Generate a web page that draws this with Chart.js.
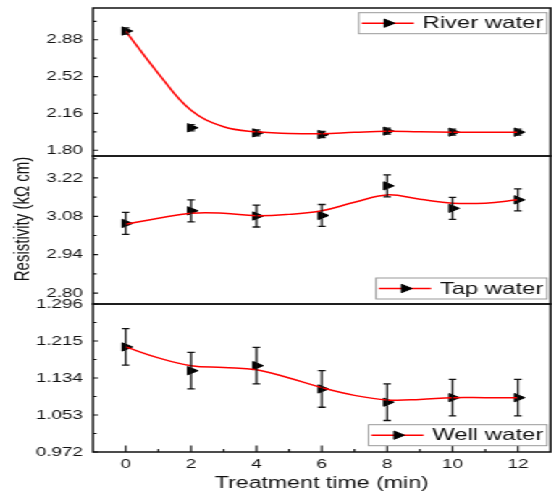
<!DOCTYPE html>
<html>
<head>
<meta charset="utf-8">
<script src="https://cdn.jsdelivr.net/npm/chart.js@4.4.1/dist/chart.umd.min.js"></script>
<style>
  html, body { margin: 0; padding: 0; background: #fff; }
  /* the original figure is stretched sideways, so draw narrow and widen */
  #stage { position: relative; width: 386px; height: 497px; transform: scaleX(1.4482); transform-origin: 0 0; }
  #stage canvas { position: absolute; left: 0; }
</style>
</head>
<body>
<div id="stage">
  <canvas id="river" width="386" height="166" style="top:0px"></canvas>
  <canvas id="tap" width="386" height="168" style="top:146px"></canvas>
  <canvas id="well" width="386" height="203" style="top:294px"></canvas>
</div>
<script>
// measured points (treatment time in min)
const times = [0, 2, 4, 6, 8, 10, 12];
const riverValues = [2.965, 2.02, 1.97, 1.954, 1.987, 1.977, 1.977];
const riverErrors = [0.03, 0.03, 0.03, 0.03, 0.03, 0.03, 0.03];
const tapValues = [3.054, 3.100, 3.081, 3.083, 3.191, 3.109, 3.140];
const tapErrors = [0.04, 0.04, 0.04, 0.04, 0.04, 0.04, 0.04];
const wellValues = [1.202, 1.150, 1.161, 1.110, 1.081, 1.091, 1.091];
const wellErrors = [0.04, 0.04, 0.04, 0.04, 0.04, 0.04, 0.04];

const curveTimes = [0, 1, 2, 3, 4, 5, 6, 7, 8, 9, 10, 11, 12];
const riverCurve = [2.965, 2.55, 2.19, 2.03, 1.98, 1.965, 1.962, 1.975, 1.985, 1.98, 1.977, 1.977, 1.977];
const tapCurve = [3.051, 3.073, 3.091, 3.091, 3.082, 3.087, 3.100, 3.131, 3.158, 3.142, 3.128, 3.128, 3.140];
const wellCurve = [1.202, 1.178, 1.161, 1.157, 1.152, 1.134, 1.113, 1.096, 1.086, 1.087, 1.091, 1.091, 1.091];

// axis ticks
const riverTicks = [1.80, 2.16, 2.52, 2.88];
const riverMinor = [1.98, 2.34, 2.70, 3.06];
const tapTicks = [2.80, 2.94, 3.08, 3.22];
const tapMinor = [2.87, 3.01, 3.15, 3.29];
const wellTicks = [0.972, 1.053, 1.134, 1.215, 1.296];
const wellMinor = [1.0125, 1.0935, 1.1745, 1.2555];
const timeTicks = [0, 2, 4, 6, 8, 10, 12];
const timeMinor = [1, 3, 5, 7, 9, 11];

const FONT = "'Liberation Sans', Arial, sans-serif";
const INK = '#111';

function drawTriangle(ctx, x, y, r) {
  ctx.beginPath();
  ctx.moveTo(x + r, y);
  ctx.lineTo(x - r / 2, y - r * 0.866);
  ctx.lineTo(x - r / 2, y + r * 0.866);
  ctx.closePath();
  ctx.fill();
  ctx.stroke();
}

// frame, inward ticks, error bars and legend box
function decor(cfg) {
  return {
    id: 'decor',
    afterDatasetsDraw(chart) {
      const { ctx, chartArea: a, scales } = chart;
      const x = scales.x, y = scales.y;
      ctx.save();
      ctx.strokeStyle = INK;
      ctx.fillStyle = INK;

      // error bars
      ctx.lineWidth = 1.3;
      cfg.values.forEach((v, i) => {
        const px = x.getPixelForValue(times[i]);
        const top = y.getPixelForValue(v + cfg.errors[i]);
        const bot = y.getPixelForValue(v - cfg.errors[i]);
        ctx.beginPath();
        ctx.moveTo(px, top); ctx.lineTo(px, bot);
        ctx.moveTo(px - 2.6, top); ctx.lineTo(px + 2.6, top);
        ctx.moveTo(px - 2.6, bot); ctx.lineTo(px + 2.6, bot);
        ctx.stroke();
      });

      // ticks pointing in
      ctx.lineWidth = 1.2;
      ctx.beginPath();
      cfg.major.forEach(v => {
        const py = y.getPixelForValue(v);
        ctx.moveTo(a.left, py); ctx.lineTo(a.left + 3.6, py);
      });
      cfg.minor.forEach(v => {
        const py = y.getPixelForValue(v);
        ctx.moveTo(a.left, py); ctx.lineTo(a.left + 2.4, py);
      });
      if (cfg.showX) {
        timeTicks.forEach(v => {
          const px = x.getPixelForValue(v);
          ctx.moveTo(px, a.bottom); ctx.lineTo(px, a.bottom - 6.5);
        });
        timeMinor.forEach(v => {
          const px = x.getPixelForValue(v);
          ctx.moveTo(px, a.bottom); ctx.lineTo(px, a.bottom - 3);
        });
      }
      ctx.stroke();

      // frame
      ctx.lineWidth = 1.5;
      ctx.strokeRect(a.left, a.top, a.right - a.left, a.bottom - a.top);

      // legend
      ctx.font = `16.5px ${FONT}`;
      const tw = ctx.measureText(cfg.label).width;
      const bw = 2 + 36 + 6 + tw + 2.5;
      const bh = 21;
      const bx = a.right - 2.5 - bw;
      const by = cfg.legendTop ? a.top + 4.7 : a.bottom - cfg.legendGap - bh;
      ctx.fillStyle = '#fff';
      ctx.fillRect(bx, by, bw, bh);
      ctx.strokeStyle = '#999';
      ctx.lineWidth = 1;
      ctx.strokeRect(bx, by, bw, bh);
      const cy = by + bh / 2;
      ctx.strokeStyle = '#ff0000';
      ctx.lineWidth = 1.5;
      ctx.beginPath();
      ctx.moveTo(bx + 2, cy); ctx.lineTo(bx + 38, cy);
      ctx.stroke();
      ctx.fillStyle = '#000';
      ctx.strokeStyle = '#000';
      ctx.lineWidth = 1;
      drawTriangle(ctx, bx + 20, cy, 4.8);
      ctx.fillStyle = INK;
      ctx.textAlign = 'left';
      ctx.textBaseline = 'middle';
      ctx.fillText(cfg.label, bx + 44, cy + 0.5);

      // shared y title, drawn on the middle panel
      if (cfg.yTitle) {
        ctx.translate(16, 219 - 146);
        ctx.rotate(-Math.PI / 2);
        ctx.font = `15px ${FONT}`;
        ctx.textAlign = 'center';
        ctx.fillText(cfg.yTitle, 0, 0);
      }
      ctx.restore();
    }
  };
}

function makePanel(id, cfg) {
  return new Chart(document.getElementById(id), {
    type: 'line',
    data: {
      datasets: [
        {
          data: curveTimes.map((t, i) => ({ x: t, y: cfg.curve[i] })),
          borderColor: '#ff0000',
          borderWidth: 1.5,
          pointRadius: 0,
          tension: 0.4,
          fill: false
        },
        {
          data: times.map((t, i) => ({ x: t, y: cfg.values[i] })),
          showLine: false,
          pointStyle: 'triangle',
          pointRotation: 90,
          pointRadius: 4.8,
          pointBackgroundColor: '#000',
          pointBorderColor: '#000',
          pointBorderWidth: 1
        }
      ]
    },
    options: {
      responsive: false,
      animation: false,
      devicePixelRatio: 1,
      layout: { padding: cfg.padding },
      plugins: { legend: { display: false }, tooltip: { enabled: false } },
      scales: {
        x: {
          type: 'linear',
          min: -1,
          max: 13,
          display: cfg.showX,
          grid: { display: false, drawTicks: false },
          border: { display: false },
          ticks: {
            padding: 5,
            maxRotation: 0,
            autoSkip: false,
            color: INK,
            font: { family: FONT, size: 13 },
            callback: v => String(v)
          },
          afterBuildTicks: s => { s.ticks = timeTicks.map(v => ({ value: v })); },
          afterFit: s => {
            s.height = cfg.showX ? 45 : 0;
            s.paddingLeft = 0;
            s.paddingRight = 0;
          },
          title: {
            display: true,
            text: 'Treatment time (min)',
            color: INK,
            font: { family: FONT, size: 16 },
            padding: { top: 0, bottom: 4 }
          }
        },
        y: {
          min: cfg.min,
          max: cfg.max,
          grid: { display: false, drawTicks: false },
          border: { display: false },
          ticks: {
            padding: 7,
            color: INK,
            font: { family: FONT, size: 13 },
            callback: v => v.toFixed(cfg.decimals)
          },
          afterBuildTicks: s => { s.ticks = cfg.major.map(v => ({ value: v })); },
          afterFit: s => {
            s.width = 64.2;
            s.paddingTop = 0;
            s.paddingBottom = 0;
          }
        }
      }
    },
    plugins: [decor(cfg)]
  });
}

makePanel('river', {
  values: riverValues, errors: riverErrors, curve: riverCurve,
  major: riverTicks, minor: riverMinor, decimals: 2,
  min: 1.744, max: 3.19,
  label: 'River water', legendTop: true,
  padding: { top: 8, bottom: 10, left: 0, right: 3.5 },
  showX: false
});

makePanel('tap', {
  values: tapValues, errors: tapErrors, curve: tapCurve,
  major: tapTicks, minor: tapMinor, decimals: 2,
  min: 2.76, max: 3.30,
  label: 'Tap water', legendTop: false, legendGap: 5,
  padding: { top: 10, bottom: 10, left: 0, right: 3.5 },
  showX: false,
  yTitle: 'Resistivity (kΩ cm)'
});

makePanel('well', {
  values: wellValues, errors: wellErrors, curve: wellCurve,
  major: wellTicks, minor: wellMinor, decimals: 3,
  min: 0.972, max: 1.296,
  label: 'Well water', legendTop: false, legendGap: 6.3,
  padding: { top: 10, bottom: 0, left: 0, right: 3.5 },
  showX: true
});
</script>
</body>
</html>
